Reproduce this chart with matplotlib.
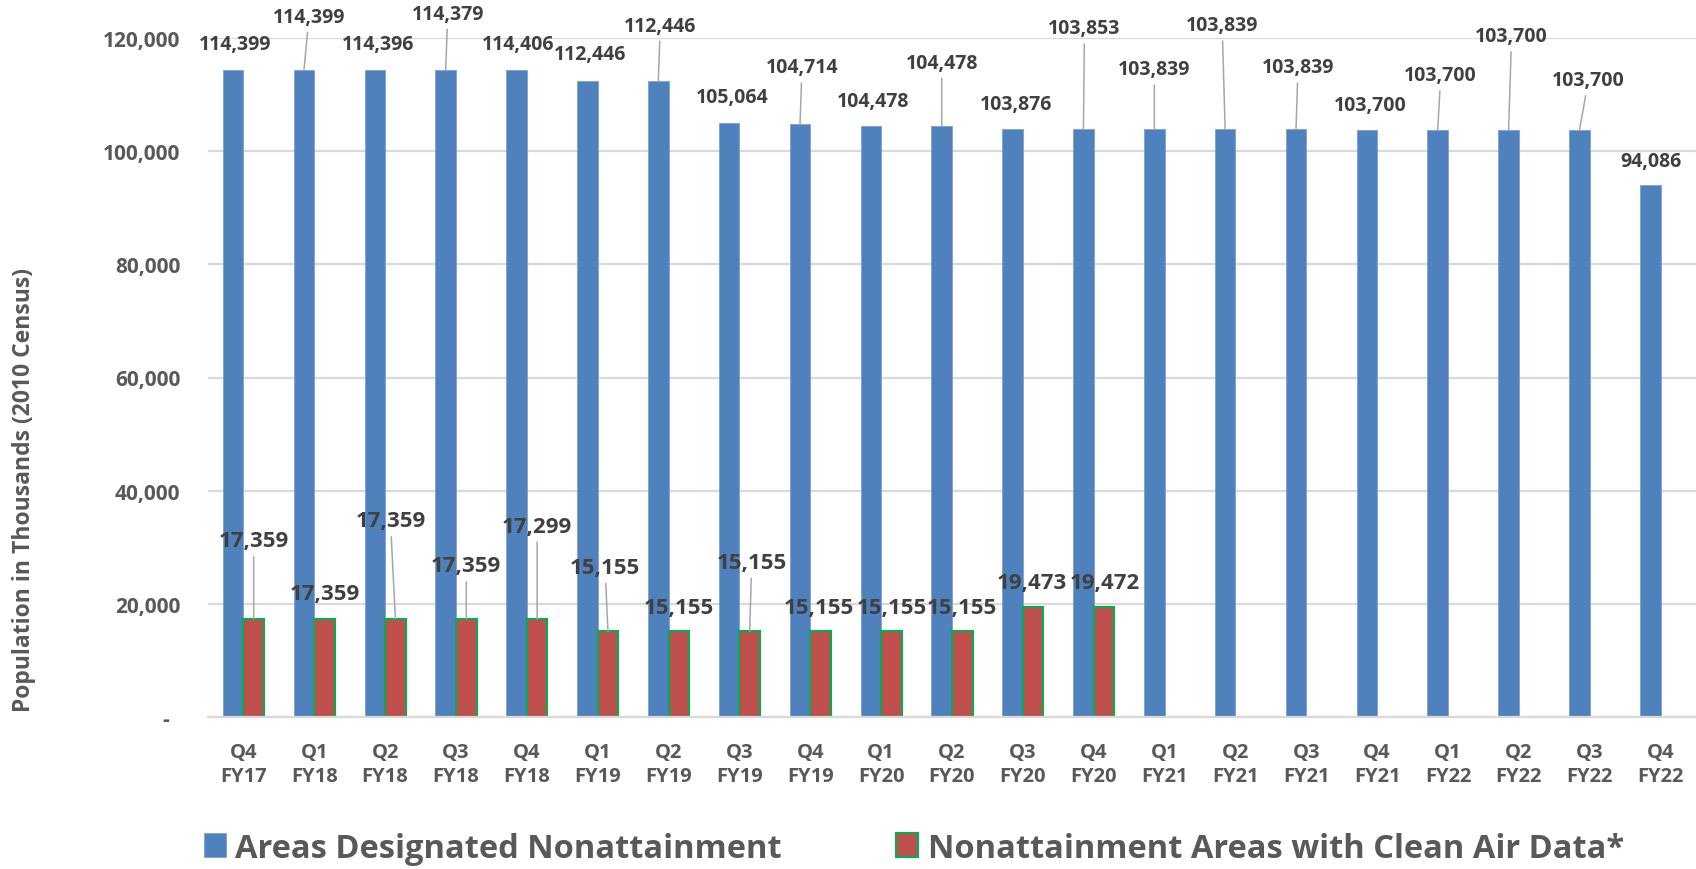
import numpy as np
import matplotlib
matplotlib.use("Agg")
import matplotlib.pyplot as plt
from matplotlib.ticker import FuncFormatter

plt.rcParams['font.family'] = ['Open Sans', 'DejaVu Sans']
plt.rcParams['font.weight'] = 'bold'

# quarters on the category axis
quarters = ["Q4", "Q1", "Q2", "Q3", "Q4", "Q1", "Q2", "Q3", "Q4", "Q1", "Q2",
            "Q3", "Q4", "Q1", "Q2", "Q3", "Q4", "Q1", "Q2", "Q3", "Q4"]
fiscal_years = ["FY17", "FY18", "FY18", "FY18", "FY18", "FY19", "FY19", "FY19",
                "FY19", "FY20", "FY20", "FY20", "FY20", "FY21", "FY21", "FY21",
                "FY21", "FY22", "FY22", "FY22", "FY22"]

# population in thousands (2010 census)
designated = [114399, 114399, 114396, 114379, 114406, 112446, 112446, 105064,
              104714, 104478, 104478, 103876, 103853, 103839, 103839, 103839,
              103700, 103700, 103700, 103700, 94086]
clean_air = [17359, 17359, 17359, 17359, 17299, 15155, 15155, 15155, 15155,
             15155, 15155, 19473, 19472]

series_names = ["Areas Designated Nonattainment",
                "Nonattainment Areas with Clean Air Data*"]

# label offsets from the bar top, in pixels (dx, dy)
blue_offsets = [(2, 26), (5, 53), (3, 26), (2, 56), (2, 26), (3, 27), (2, 55),
                (3, 26), (2, 57), (2, 25), (0, 63), (3, 25), (1, 101), (0, 60),
                (-3, 104), (2, 62), (3, 25), (3, 55), (3, 94), (9, 50), (1, 24)]
red_offsets = [(0, 78), (0, 25), (-5, 98), (0, 53), (0, 93), (-3, 64), (0, 24),
               (2, 69), (-2, 24), (0, 24), (0, 24), (-1, 24), (1, 24)]

BLUE = "#4F81BD"
RED = "#C0504D"
GREEN = "#00B050"
GRID = "#D9D9D9"
TICK = "#595959"
LABEL = "#404040"
LEADER = "#A6A6A6"

W, H = 1696, 870
fig = plt.figure(figsize=(W / 100, H / 100), dpi=100)
ax = fig.add_axes([208 / W, 1 - 718 / H, (W - 208) / W, (718 - 39) / H])

x = np.arange(len(designated))
bw = 0.29
blue = ax.bar(x - bw / 2, designated, bw, color=BLUE, edgecolor="#7BA0CF",
              linewidth=0.6, label=series_names[0], zorder=2)
xr = np.arange(len(clean_air))
red = ax.bar(xr + bw / 2, clean_air, bw, color=RED, edgecolor=GREEN,
             linewidth=1.5, label=series_names[1], zorder=2)

ax.set_xlim(-0.5, len(designated) - 0.5)
ax.set_ylim(0, 120000)
ax.set_yticks(np.arange(0, 120001, 20000))
ax.yaxis.set_major_formatter(FuncFormatter(
    lambda v, p: "-  " if v == 0 else f"{v:,.0f}"))
ax.yaxis.grid(True, color=GRID, linewidth=1.6)
ax.set_axisbelow(True)
for s in ["top", "right", "left"]:
    ax.spines[s].set_visible(False)
ax.spines["bottom"].set_color(GRID)
ax.spines["bottom"].set_linewidth(1.6)

ax.set_xticks(x)
ax.set_xticklabels([f"{q}\n{fy}" for q, fy in zip(quarters, fiscal_years)],
                   linespacing=1.3)
ax.tick_params(axis="x", length=0, pad=18, labelsize=14.5, labelcolor=TICK)
ax.tick_params(axis="y", length=0, pad=20, labelsize=15, labelcolor=TICK)


def label_bars(xs, vals, offsets, size):
    for xi, v, (dx, dy) in zip(xs, vals, offsets):
        arrow = None
        if dy > 35:
            arrow = dict(arrowstyle="-", color=LEADER, lw=1.1,
                         shrinkA=2, shrinkB=0)
        ax.annotate(f"{v:,}", xy=(xi, v), xytext=(dx, dy),
                    textcoords="offset pixels", ha="center", va="center",
                    fontsize=size, color=LABEL, fontweight="bold",
                    arrowprops=arrow, annotation_clip=False, zorder=3)


label_bars(x - bw / 2, designated, blue_offsets, 14)
label_bars(xr + bw / 2, clean_air, red_offsets, 16)

fig.text(24 / W, 1 - 490 / H, "Population in Thousands (2010 Census)",
         rotation=90, ha="center", va="center", fontsize=16.5, color=TICK,
         fontweight="bold")

leg = fig.legend(handles=[blue, red], loc="lower left",
                 bbox_to_anchor=(204 / W, 0.005), ncol=2, frameon=False,
                 fontsize=23.5, handlelength=0.66, handleheight=0.75,
                 handletextpad=0.3, columnspacing=3.5, borderpad=0,
                 borderaxespad=0)
for t in leg.get_texts():
    t.set_color(TICK)

fig.savefig("out.png", dpi=100)
